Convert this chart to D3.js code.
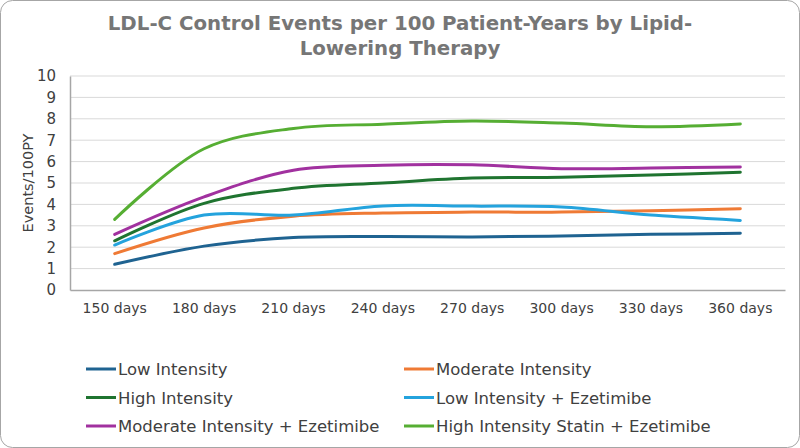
<!DOCTYPE html>
<html>
<head>
<meta charset="utf-8">
<script src="https://cdn.jsdelivr.net/npm/d3@7"></script>
<style>
  body { margin: 0; background: #fff; }
  svg { font-family: "DejaVu Sans", sans-serif; }
</style>
</head>
<body>
<svg id="chart" width="800" height="448"></svg>
<script>
const categories = ["150 days", "180 days", "210 days", "240 days", "270 days", "300 days", "330 days", "360 days"];
const seriesNames = ["Low Intensity", "Moderate Intensity", "High Intensity",
                     "Low Intensity + Ezetimibe", "Moderate Intensity + Ezetimibe",
                     "High Intensity Statin + Ezetimibe"];
const lowIntensity      = [1.2, 2.05, 2.45, 2.5, 2.48, 2.52, 2.6, 2.65];
const moderateIntensity = [1.7, 2.9, 3.45, 3.6, 3.64, 3.64, 3.7, 3.8];
const highIntensity     = [2.3, 4.05, 4.75, 5.0, 5.23, 5.27, 5.37, 5.5];
const lowEzetimibe      = [2.1, 3.5, 3.5, 3.93, 3.92, 3.88, 3.5, 3.25];
const moderateEzetimibe = [2.6, 4.35, 5.6, 5.83, 5.85, 5.67, 5.7, 5.75];
const highEzetimibe     = [3.3, 6.6, 7.55, 7.75, 7.9, 7.8, 7.63, 7.76];
const yTicks = [0, 1, 2, 3, 4, 5, 6, 7, 8, 9, 10];
const colors = ["#1f6391", "#ef7a35", "#1f7430", "#24a3dd", "#a1319f", "#56ae33"];

const allSeries = [lowIntensity, moderateIntensity, highIntensity,
                   lowEzetimibe, moderateEzetimibe, highEzetimibe];

const svg = d3.select("#chart");
const plotLeft = 70, plotRight = 785, plotTop = 76, plotBottom = 290;

// card border
svg.append("rect")
    .attr("x", 0.5).attr("y", 0.5)
    .attr("width", 799).attr("height", 447)
    .attr("rx", 12)
    .attr("fill", "#fff")
    .attr("stroke", "#a6a6a6");

// title
const title = svg.append("text")
    .attr("text-anchor", "middle")
    .attr("font-size", "19.8px")
    .attr("font-weight", "bold")
    .attr("fill", "#767676");
title.append("tspan").attr("x", 400).attr("y", 30)
    .text("LDL-C Control Events per 100 Patient-Years by Lipid-");
title.append("tspan").attr("x", 400).attr("y", 55)
    .text("Lowering Therapy");

let x = d3.scaleBand()
    .domain(categories)
    .range([plotLeft, plotRight]);

let y = d3.scaleLinear()
    .domain([0, 10])
    .range([plotBottom, plotTop]);

// gridlines
svg.append("g")
    .selectAll("line")
    .data(yTicks.filter(d => d > 0))
    .enter()
    .append("line")
    .attr("x1", plotLeft).attr("x2", plotRight)
    .attr("y1", d => y(d)).attr("y2", d => y(d))
    .attr("stroke", "#d9d9d9")
    .attr("stroke-width", 1);

// y axis
let yAxis = svg.append("g")
    .attr("transform", "translate(" + plotLeft + ",0)")
    .call(d3.axisLeft(y).tickValues(yTicks).tickSize(0).tickPadding(14));
yAxis.select(".domain").attr("stroke", "#a6a6a6").attr("stroke-width", 1.5);
yAxis.selectAll("text")
    .attr("font-size", "15px")
    .attr("fill", "#404040")
    .attr("font-family", "DejaVu Sans");

// x axis
let xAxis = svg.append("g")
    .attr("transform", "translate(0," + plotBottom + ")")
    .call(d3.axisBottom(x).tickSize(0).tickPadding(13));
xAxis.select(".domain").attr("stroke", "#a6a6a6").attr("stroke-width", 1.5);
xAxis.selectAll("text")
    .attr("font-size", "14px")
    .attr("fill", "#404040")
    .attr("font-family", "DejaVu Sans");

// y axis title
svg.append("text")
    .attr("transform", "translate(33," + ((plotTop + plotBottom) / 2) + ") rotate(-90)")
    .attr("text-anchor", "middle")
    .attr("font-size", "14.5px")
    .attr("fill", "#404040")
    .text("Events/100PY");

// lines
const line = d3.line()
    .x((d, i) => x(categories[i]) + x.bandwidth() / 2)
    .y(d => y(d))
    .curve(d3.curveCatmullRom.alpha(0.5));

svg.append("g")
    .selectAll("path")
    .data(allSeries)
    .enter()
    .append("path")
    .attr("d", d => line(d))
    .attr("fill", "none")
    .attr("stroke", (d, i) => colors[i])
    .attr("stroke-width", 3)
    .attr("stroke-linecap", "round");

// legend
const legend = svg.append("g")
    .selectAll("g")
    .data(seriesNames)
    .enter()
    .append("g")
    .attr("transform", (d, i) =>
        "translate(" + (i % 2 === 0 ? 86 : 404) + "," + (369 + Math.floor(i / 2) * 28.5) + ")");

legend.append("line")
    .attr("x1", 0).attr("x2", 30)
    .attr("y1", 0).attr("y2", 0)
    .attr("stroke", (d, i) => colors[i])
    .attr("stroke-width", 3);

legend.append("text")
    .attr("x", 32)
    .attr("y", 6)
    .attr("font-size", "16.5px")
    .attr("fill", "#404040")
    .text(d => d);
</script>
</body>
</html>
